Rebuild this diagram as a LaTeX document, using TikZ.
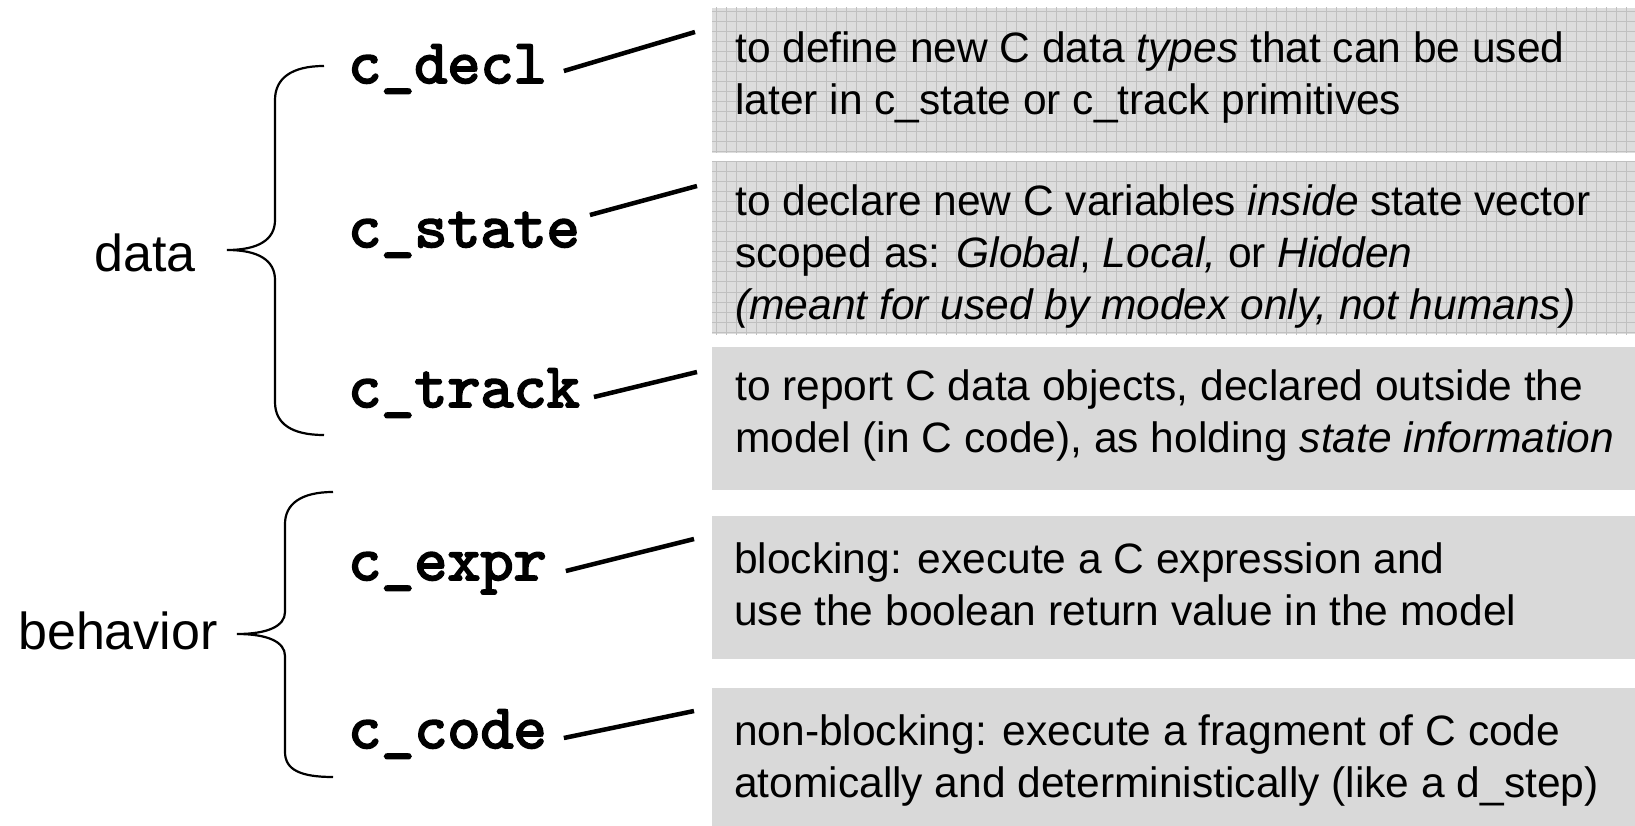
\documentclass[tikz,border=0pt]{standalone}
\usepackage{fontspec}
\setmainfont{Liberation Sans}
\newfontfamily\primfont[FakeBold=3]{lmmono10-regular.otf}
\definecolor{boxgray}{RGB}{217,217,217}
\definecolor{gridbg}{RGB}{221,221,221}
\definecolor{gridln}{RGB}{192,192,192}
\begin{document}
\begin{tikzpicture}[x=1pt,y=-1pt,
  descbox/.style={draw=none, fill=boxgray, anchor=north west, inner sep=0pt, outer sep=0pt, minimum width=923pt},
  gridbox/.style={descbox, fill=gridbg},
  desc/.style={anchor=base west, inner sep=0pt, font=\fontsize{42.5}{52}\selectfont},
  prim/.style={anchor=base west, inner sep=0pt, font=\fontsize{63}{66}\selectfont\primfont},
  group/.style={anchor=base west, inner sep=0pt, font=\fontsize{52}{60}\selectfont},
  conn/.style={line width=4.5pt},
  brace/.style={line width=2.2pt},
  gridline/.style={draw=gridln, line width=1pt}]

\useasboundingbox (0,0) rectangle (1635,826);

% description boxes
\node[gridbox, minimum height=145pt] (b1) at (712,8) {};
\node[gridbox, minimum height=172pt] (b2) at (712,162) {};
\node[descbox, minimum height=143pt] (b3) at (712,347) {};
\node[descbox, minimum height=143pt] (b4) at (712,516) {};
\node[descbox, minimum height=138pt] (b5) at (712,688) {};

% squared paper texture on the data-type boxes
\foreach \b in {b1,b2}{
  \begin{scope}
    \clip (\b.north west) rectangle (\b.south east);
    \foreach \x in {716,726,...,1636}
      \draw[gridline] (\x,0) -- (\x,340);
    \foreach \y in {2,12,...,342}
      \draw[gridline] (700,\y) -- (1640,\y);
  \end{scope}
}

% description texts
\node[desc] (t1) at (735,63) {\parbox[t]{900pt}{\raggedright
  to define new C data \textit{types} that can be used\\
  later in c\_state or c\_track primitives}};
\node[desc] (t2) at (735,216) {\parbox[t]{900pt}{\raggedright
  to declare new C variables \textit{inside} state vector\\
  scoped as: \textit{Global}, \textit{Local,} or \textit{Hidden}\\
  \textit{(meant for used by modex only, not humans)}}};
\node[desc] (t3) at (735,400) {\parbox[t]{900pt}{\raggedright
  to report C data objects, declared outside the\\
  model (in C code), as holding \textit{state information}}};
\node[desc] (t4) at (734,573) {\parbox[t]{900pt}{\raggedright
  blocking: execute a C expression and\\
  use the boolean return value in the model}};
\node[desc] (t5) at (734,745) {\parbox[t]{900pt}{\raggedright
  non-blocking: execute a fragment of C code\\
  atomically and deterministically (like a d\_step)}};

% primitives
\node[prim] (decl)  at (348,83)  {c\_decl};
\node[prim] (state) at (348,247) {c\_state};
\node[prim] (track) at (348,407) {c\_track};
\node[prim] (expr)  at (348,580) {c\_expr};
\node[prim] (code)  at (348,748) {c\_code};

% group labels
\node[group] (data) at (94,272) {data};
\node[group] (behav) at (18,649) {behavior};

% braces
\draw[brace] (324,66) .. controls (292,66) and (275,78) .. (275,100)
  -- (275,220) .. controls (275,240) and (258,250) .. (227,250)
  .. controls (258,250) and (275,260) .. (275,280)
  -- (275,402) .. controls (275,424) and (292,435) .. (324,435);
\draw[brace] (333,492) .. controls (301,492) and (285,504) .. (285,524)
  -- (285,612) .. controls (285,626) and (268,634) .. (237,634)
  .. controls (268,634) and (285,642) .. (285,656)
  -- (285,752) .. controls (285,770) and (301,777) .. (333,777);

% connectors
\draw[conn] ([shift={(17,-12)}]decl.base east)  -- ([shift={(-17,24)}]b1.north west);
\draw[conn] ([shift={(10,-32)}]state.base east) -- ([shift={(-15,24)}]b2.north west);
\draw[conn] ([shift={(14,-10)}]track.base east) -- ([shift={(-15,25)}]b3.north west);
\draw[conn] ([shift={(19,-9)}]expr.base east)   -- ([shift={(-18,23)}]b4.north west);
\draw[conn] ([shift={(17,-10)}]code.base east)  -- ([shift={(-18,23)}]b5.north west);
\end{tikzpicture}
\end{document}
